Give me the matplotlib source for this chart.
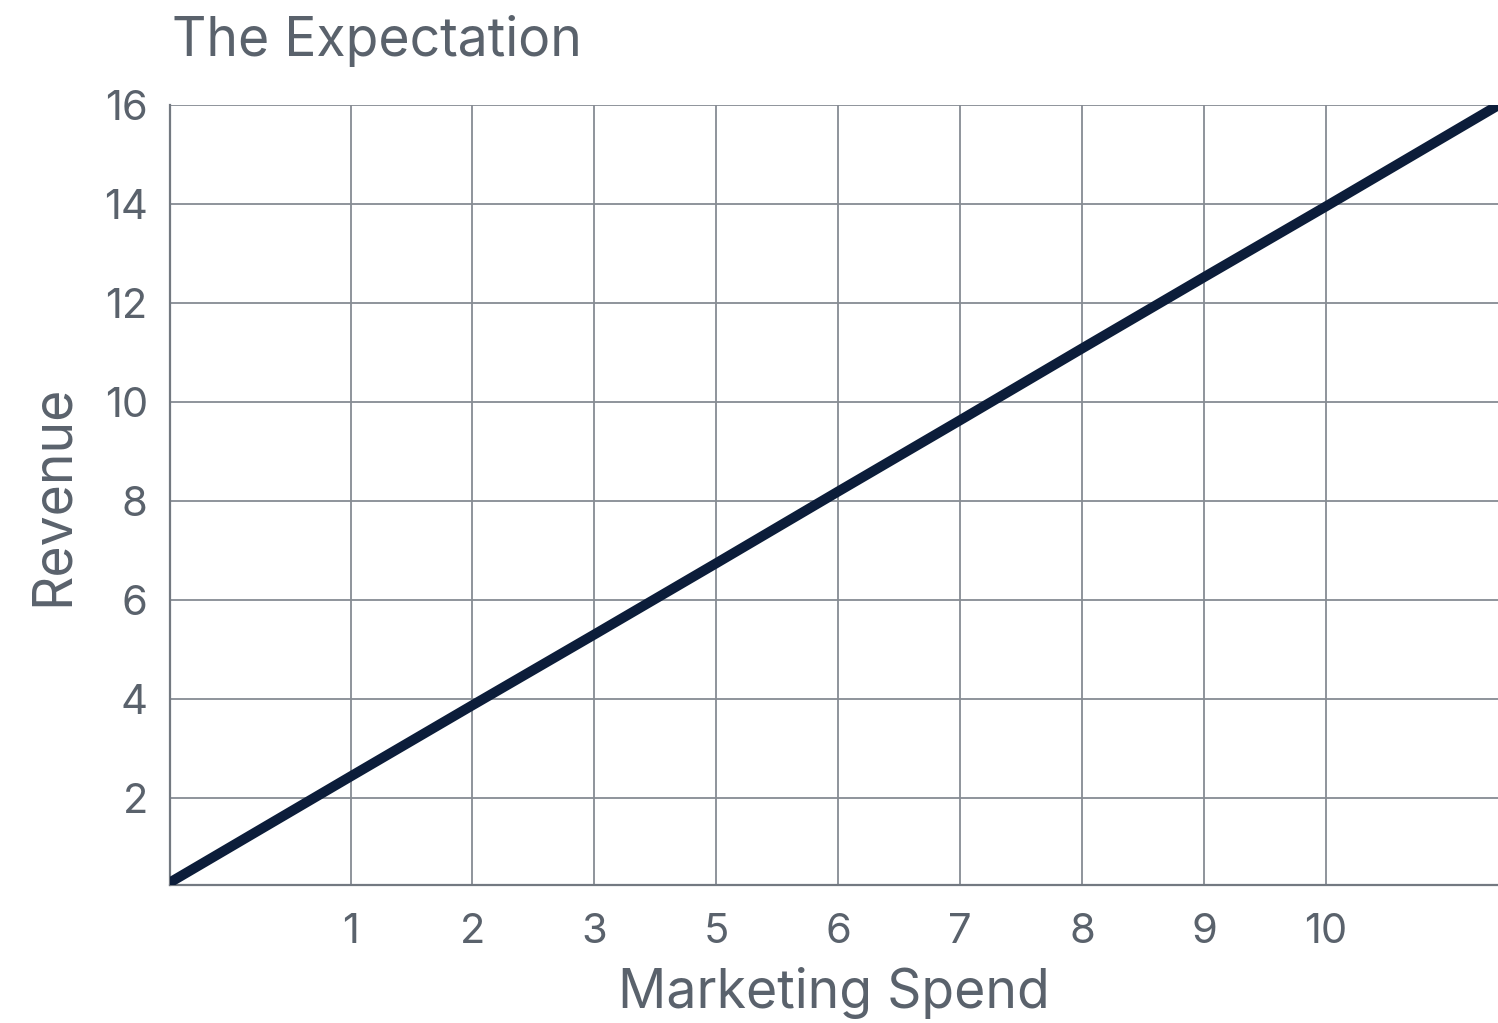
import matplotlib.pyplot as plt

# Chart values
spend_labels = ["1", "2", "3", "5", "6", "7", "8", "9", "10"]
spend_positions = [1, 2, 3, 4, 5, 6, 7, 8, 9]

# line is straight from the axes origin to the top-right corner
line_x = [-0.48, 1, 2, 3, 4, 5, 6, 7, 8, 9, 10.41]
revenue = [0.30, 2.44, 3.88, 5.31, 6.75, 8.2, 9.64, 11.09, 12.53, 13.96, 16.0]

revenue_ticks = [2, 4, 6, 8, 10, 12, 14, 16]

TEXT = "#5a626c"
GRID = "#868b93"
LINE = "#0c1d3a"

plt.rcParams["font.family"] = ["Inter", "DejaVu Sans"]

fig = plt.figure(figsize=(14.98, 10.23), dpi=100)
ax = fig.add_axes([0.1135, 0.135, 0.8865, 0.762])

ax.plot(line_x, revenue, color=LINE, linewidth=7.2, solid_capstyle="round", zorder=3)

ax.set_xlim(-0.48, 10.41)
ax.set_ylim(0.25, 16)
ax.set_xticks(spend_positions)
ax.set_xticklabels(spend_labels)
ax.set_yticks(revenue_ticks)

ax.grid(True, color=GRID, linewidth=1.3)
ax.set_axisbelow(True)
ax.tick_params(length=0, labelsize=30, labelcolor=TEXT)
ax.tick_params(axis="x", pad=20)
ax.tick_params(axis="y", pad=16)

for side in ["top", "right"]:
    ax.spines[side].set_visible(False)
for side in ["left", "bottom"]:
    ax.spines[side].set_color("#737981")
    ax.spines[side].set_linewidth(1.6)

ax.set_xlabel("Marketing Spend", fontsize=38.5, color=TEXT, labelpad=12)
ax.set_ylabel("Revenue", fontsize=38.5, color=TEXT, labelpad=18)
fig.text(0.115, 0.945, "The Expectation", fontsize=38.5, color=TEXT, ha="left", va="baseline")

plt.savefig("out.png", dpi=100)
